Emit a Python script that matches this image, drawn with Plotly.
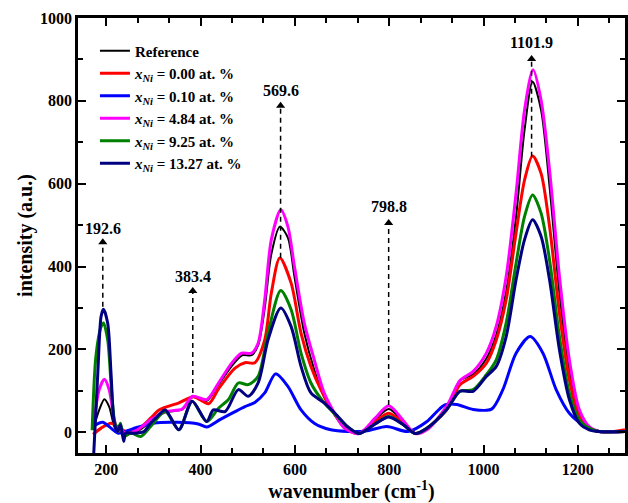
import plotly.graph_objects as go

# ---------------- data ----------------
ref_x = [172, 185, 196, 206, 217, 225, 232, 240, 266, 294, 325, 361, 383, 413, 438, 466, 488, 508,
         522, 536, 550, 568, 585, 599, 620, 641, 662, 684, 705, 736, 770, 799, 830, 855, 880, 901,
         922, 950, 978, 1006, 1027, 1048, 1069, 1087, 1104, 1122, 1140, 1161, 1182, 1203, 1224, 1245, 1300]
ref_y = [6, 54, 80, 62, 14, 0, 8, -5, 2, 26, 48, 55, 85, 76, 115, 160, 186, 186,
         210, 300, 430, 496, 470, 376, 239, 151, 85, 42, 10, -2, 30, 56, 25, -2, 10, 30,
         55, 125, 140, 178, 235, 340, 520, 730, 846, 778, 593, 336, 151, 46, 12, 2, 2]

red_x = [172, 189, 210, 224, 245, 266, 294, 312, 354, 385, 417, 438, 473, 494, 515, 536, 550, 568,
         592, 613, 634, 655, 683, 712, 736, 770, 799, 830, 855, 880, 922, 950, 978, 1006, 1027,
         1048, 1069, 1087, 1104, 1122, 1140, 1161, 1182, 1203, 1224, 1260, 1300]
red_y = [-5, 10, 22, 14, 0, 6, 34, 54, 71, 86, 69, 105, 155, 168, 168, 223, 336, 421,
         360, 239, 159, 103, 46, 6, -3, 25, 46, 22, -3, 10, 55, 115, 135, 167, 223,
         320, 481, 609, 667, 625, 497, 288, 127, 38, 10, 0, 6]

blu_x = [172, 192, 210, 224, 240, 266, 300, 350, 395, 413, 440, 470, 494, 515, 536, 559, 585, 613,
         641, 676, 712, 750, 795, 840, 880, 901, 918, 943, 978, 1017, 1041, 1069, 1099, 1126,
         1154, 1182, 1217, 1245, 1300]
blu_y = [14, 24, 10, -2, 2, 12, 22, 24, 20, 13, 30, 48, 62, 72, 95, 141, 111, 54,
         22, 6, 2, 3, 14, 2, 26, 50, 66, 67, 55, 56, 103, 191, 231, 191,
         103, 46, 14, 2, 2]

mag_x = [172, 185, 196, 206, 217, 225, 232, 240, 266, 294, 325, 361, 383, 413, 438, 466, 487, 508,
         522, 536, 550, 570, 585, 599, 620, 641, 662, 684, 705, 736, 770, 799, 830, 855, 880,
         922, 950, 978, 1006, 1027, 1048, 1069, 1087, 1105, 1122, 1140, 1161, 1182, 1203, 1224, 1245, 1300]
mag_y = [6, 103, 128, 103, 30, 2, 8, -3, 6, 30, 50, 56, 87, 79, 119, 167, 191, 191,
         215, 320, 465, 537, 497, 400, 263, 175, 95, 46, 10, -3, 34, 64, 28, -3, 6,
         63, 125, 147, 191, 256, 376, 577, 778, 875, 802, 633, 376, 175, 55, 14, 2, 2]

grn_x = [170, 178, 189, 194, 203, 210, 217, 224, 230, 237, 252, 273, 294, 325, 354, 382, 413, 438,
         459, 480, 501, 522, 543, 570, 592, 613, 634, 662, 690, 711, 736, 770, 799, 830, 855,
         880, 922, 950, 978, 1006, 1027, 1048, 1069, 1087, 1104, 1122, 1140, 1161, 1182, 1203,
         1224, 1245, 1300]
grn_y = [5, 183, 255, 264, 223, 119, 30, 2, 22, -10, -2, -10, 14, 50, 6, 75, 26, 58,
         79, 119, 115, 135, 240, 342, 296, 191, 119, 71, 38, 14, -3, 20, 38, 18, -3,
         10, 55, 99, 103, 139, 175, 264, 408, 521, 573, 529, 416, 231, 95, 30,
         10, 2, 2]

nav_x = [173, 182, 189, 194, 203, 210, 217, 224, 230, 237, 241, 252, 266, 280, 294, 308, 325, 354,
         382, 413, 427, 452, 480, 501, 522, 543, 570, 592, 613, 634, 662, 690, 711, 736, 770,
         799, 830, 855, 880, 922, 950, 978, 1006, 1027, 1048, 1069, 1087, 1104, 1122, 1140,
         1161, 1182, 1203, 1224, 1245, 1300]
nav_y = [-60, 143, 280, 297, 263, 143, 22, 2, 18, -22, -2, -2, -2, 2, 22, 38, 54, 6,
         75, 26, 54, 50, 103, 87, 119, 223, 300, 255, 159, 95, 71, 40, 14, -3, 20,
         37, 18, -3, 10, 55, 99, 99, 135, 159, 231, 368, 465, 513, 473, 368,
         199, 79, 22, 6, 2, 2]

series_names = ["Reference",
                "<i>x</i><sub><i>Ni</i></sub> = 0.00 at. %",
                "<i>x</i><sub><i>Ni</i></sub> = 0.10 at. %",
                "<i>x</i><sub><i>Ni</i></sub> = 4.84 at. %",
                "<i>x</i><sub><i>Ni</i></sub> = 9.25 at. %",
                "<i>x</i><sub><i>Ni</i></sub> = 13.27 at. %"]
series_colors = ["#000000", "#FF0000", "#0000FF", "#FF00FF", "#008000", "#000080"]
series_widths = [2, 3, 3, 3, 3, 3]

peak_pos = [192.6, 383.4, 569.6, 798.8, 1101.9]
peak_labels = ["192.6", "383.4", "569.6", "798.8", "1101.9"]
arrow_base = [303, 95, 421, 66, 665]
arrow_tip = [469, 351, 798, 515, 911]
label_y = [491, 375, 825, 545, 940]

x_ticks = [200, 400, 600, 800, 1000, 1200]
y_ticks = [0, 200, 400, 600, 800, 1000]

FONT = "Liberation Serif"

# ---------------- figure ----------------
fig = go.Figure()
xs = [ref_x, red_x, blu_x, mag_x, grn_x, nav_x]
ys = [ref_y, red_y, blu_y, mag_y, grn_y, nav_y]
for xv, yv, nm, col, w in zip(xs, ys, series_names, series_colors, series_widths):
    fig.add_trace(go.Scatter(x=xv, y=yv, mode="lines", name=nm,
                             line=dict(color=col, width=w, shape="spline", smoothing=0.8)))

# dashed arrows
dx, dy = [], []
for p, b, t in zip(peak_pos, arrow_base, arrow_tip):
    dx += [p, p, None]
    dy += [b, t - 12, None]
fig.add_trace(go.Scatter(x=dx, y=dy, mode="lines", showlegend=False, hoverinfo="skip",
                         line=dict(color="black", width=1.5, dash="5px,4px")))
fig.add_trace(go.Scatter(x=peak_pos, y=[t - 10 for t in arrow_tip], mode="markers",
                         showlegend=False, hoverinfo="skip",
                         marker=dict(symbol="triangle-up", size=8, color="black")))

for p, lab, ly in zip(peak_pos, peak_labels, label_y):
    fig.add_annotation(x=p, y=ly, text="<b>%s</b>" % lab, showarrow=False,
                       font=dict(family=FONT, size=16, color="black"))

axis_common = dict(showline=True, linecolor="black", linewidth=2.5, mirror="ticks",
                   ticks="inside", ticklen=8, tickwidth=2, tickcolor="black",
                   showgrid=False, zeroline=False,
                   tickfont=dict(family=FONT, size=16, color="black"))

fig.update_xaxes(range=[140, 1300], tickvals=x_ticks,
                 ticktext=["<b>%d</b>" % v for v in x_ticks],
                 minor=dict(dtick=200 / 3, tick0=200, ticks="inside", ticklen=5,
                            tickwidth=1.5, tickcolor="black", showgrid=False),
                 title=dict(text="<b>wavenumber (cm<sup>-1</sup>)</b>",
                            font=dict(family=FONT, size=20, color="black"), standoff=4),
                 **axis_common)
fig.update_yaxes(range=[-50, 1000], tickvals=y_ticks,
                 ticktext=["<b>%d</b>" % v for v in y_ticks],
                 minor=dict(dtick=100, tick0=0, ticks="inside", ticklen=5,
                            tickwidth=1.5, tickcolor="black", showgrid=False),
                 title=dict(text="<b>intensity (a.u.)</b>",
                            font=dict(family=FONT, size=20, color="black"), standoff=3),
                 **axis_common)

fig.update_layout(
    width=628, height=503,
    margin=dict(l=78, r=0, t=18, b=50),
    paper_bgcolor="white", plot_bgcolor="white",
    font=dict(family=FONT, color="black"),
    legend=dict(x=0.031, y=0.962, xanchor="left", yanchor="top",
                bgcolor="rgba(0,0,0,0)", borderwidth=0,
                font=dict(family=FONT, size=15, color="black", weight="bold"),
                tracegroupgap=0, itemwidth=30),
    showlegend=True,
)

fig.write_html("out.html")
